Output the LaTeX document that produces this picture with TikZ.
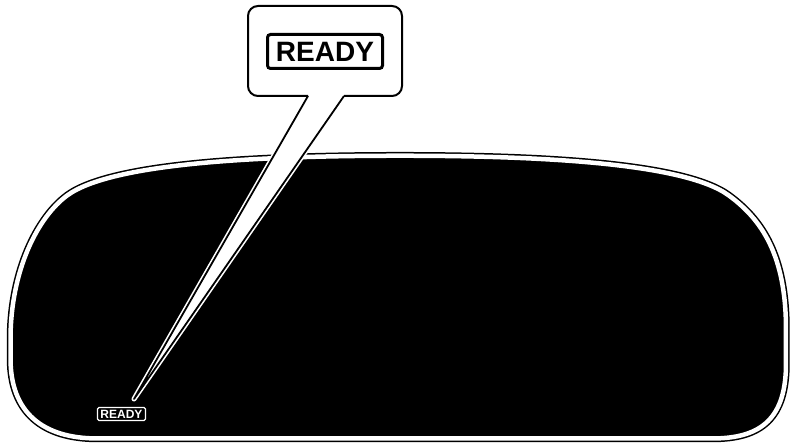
\documentclass[tikz,border=0pt]{standalone}
\usepackage{fontspec}
\setmainfont{Liberation Sans}
\tikzset{
  mirror/.style={insert path={
    (400,152.7) .. controls (540,152.7) and (686,160) .. (731,193)
    .. controls (765,218) and (789,255) .. (789,330)
    -- (789,365) .. controls (789,420) and (765,441.5) .. (715,441.5)
    -- (95,441.5) .. controls (40,441.5) and (7.5,415) .. (7.5,360)
    -- (7.5,340) .. controls (7.5,270) and (35,215) .. (65,193)
    .. controls (110,160) and (260,152.7) .. (400,152.7) -- cycle}},
  readybig/.style={draw=black, line width=3pt, rounded corners=3pt, fill=white,
    minimum width=115pt, minimum height=34pt, inner sep=0pt,
    font=\bfseries\fontsize{28}{28}\selectfont},
  readysmall/.style={draw=white, line width=1.2pt, rounded corners=1.5pt, fill=black,
    text=white, minimum width=48pt, minimum height=13pt, inner sep=0pt,
    font=\bfseries\fontsize{12}{12}\selectfont},
  calloutline/.style={draw=black, line width=2pt},
}
\begin{document}
\begin{tikzpicture}[x=1pt,y=-1pt]
\useasboundingbox (0,0) rectangle (790,443);
% mirror display
\begin{scope}[shift={(398.25,297)}, xscale=0.9923, yscale=0.979, shift={(-398.25,-297)}]
  \path[fill=black, draw=black, line width=7.5pt, line join=round, mirror];
  \path[draw=white, line width=4.5pt, line join=round, mirror];
\end{scope}
% small indicator
\node[readysmall] (small) at (121.5,414) {READY};
% callout
\coordinate (tip) at (134,399);
\coordinate (bl) at (308,96);
\coordinate (br) at (344,96);
\draw[white, line width=5pt, line join=round] (bl) -- (tip) -- (br);
\fill[white, rounded corners=10pt] (248,6) rectangle (402,96);
\fill[white] (bl) -- (tip) -- (br) -- cycle;
\draw[calloutline, rounded corners=10pt] (bl) -- (248,96) -- (248,6) -- (402,6) -- (402,96) -- (br);
\draw[calloutline, line width=1.8pt, line join=round] (bl) -- (tip) -- (br);
\node[readybig] (big) at (325,51.5) {READY};
\end{tikzpicture}
\end{document}
